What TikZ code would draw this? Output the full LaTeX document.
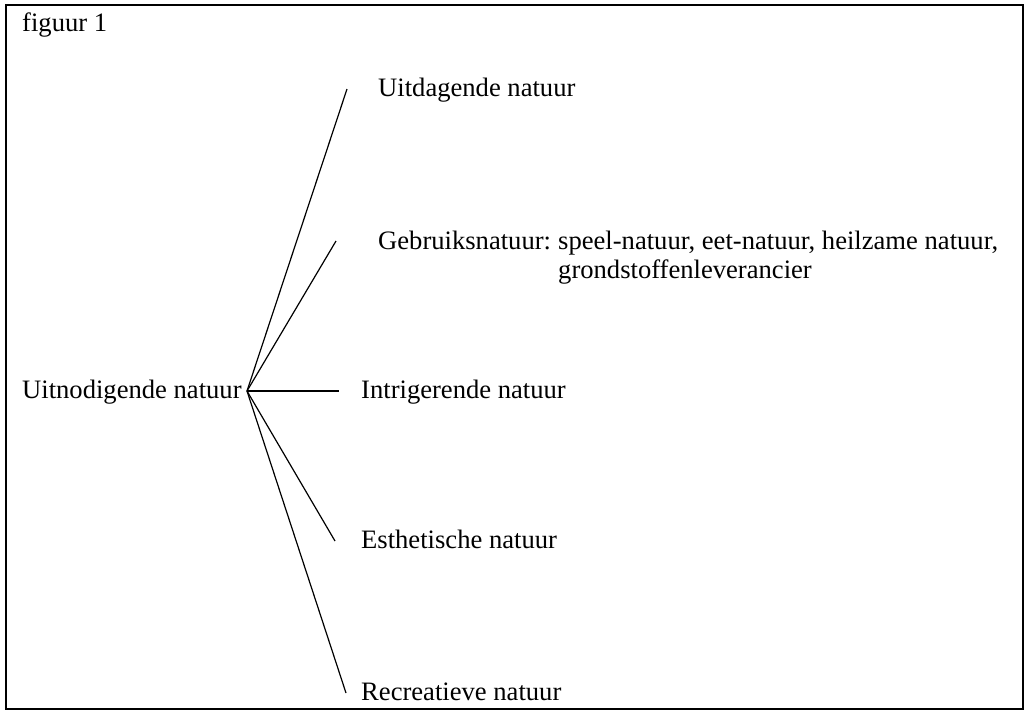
\documentclass[tikz,border=0pt]{standalone}
\usepackage{fontspec}
\setmainfont{Liberation Serif}
\begin{document}
\begin{tikzpicture}[x=1pt,y=-1pt,
  lbl/.style={anchor=base west,inner sep=0pt,font=\fontsize{26.6}{31}\selectfont},
  branch/.style={line width=1.2pt}]
\useasboundingbox (0,0) rectangle (1030,716);
\draw[line width=1.3pt] (6,5) rectangle (1023,709);
\node[lbl] (fig) at (22,31) {figuur 1};
\node[lbl] (root) at (22,398) {Uitnodigende natuur};
\coordinate (hub) at (247,391);
\coordinate (e1) at (347,89);
\coordinate (e2) at (336,241);
\coordinate (e3) at (339,391);
\coordinate (e4) at (335,541);
\coordinate (e5) at (346,693);
\draw[branch] (hub) -- (e1);
\draw[branch] (hub) -- (e2);
\draw[branch] (hub) -- (e3);
\draw[branch] (hub) -- (e4);
\draw[branch] (hub) -- (e5);
\node[lbl] (n1) at (378,96) {Uitdagende natuur};
\node[lbl] (n2) at (378,249) {Gebruiksnatuur:};
\node[lbl] (n2a) at (558,249) {speel-natuur, eet-natuur, heilzame natuur,};
\node[lbl] (n2b) at (558,278) {grondstoffenleverancier};
\node[lbl] (n3) at (361,398) {Intrigerende natuur};
\node[lbl] (n4) at (361,548) {Esthetische natuur};
\node[lbl] (n5) at (361,700) {Recreatieve natuur};
\end{tikzpicture}
\end{document}
